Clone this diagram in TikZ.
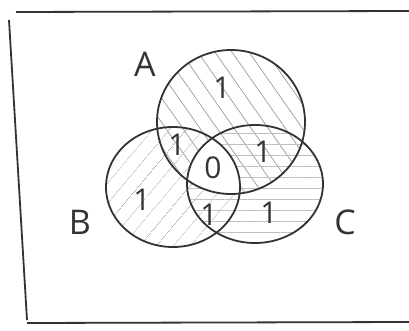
\documentclass[tikz,border=0pt]{standalone}
\usetikzlibrary{patterns.meta}
\usepackage{fontspec}
\setmainfont{Open Sans}
\begin{document}
\begin{tikzpicture}[x=1pt,y=-1pt,
  pen/.style={draw=black!80, line width=1.8pt},
  lbl/.style={font=\fontsize{34}{34}\selectfont, text=black!80, inner sep=0pt},
  num/.style={font=\fontsize{30}{30}\selectfont, text=black!80, inner sep=0pt},
  hatchA/.style={pattern={Lines[angle=-55,distance=14pt,line width=0.7pt]}, pattern color=black!40},
  hatchB/.style={pattern={Lines[angle=50,distance=13pt,line width=0.7pt]}, pattern color=black!35},
  hatchC/.style={pattern={Lines[angle=0,distance=11pt,line width=0.6pt]}, pattern color=black!25}]
\useasboundingbox (0,0) rectangle (409,331);
% hatching
\fill[hatchA] (231,122) ellipse [x radius=74, y radius=72];
\fill[hatchB] (173,187) ellipse [x radius=67, y radius=60];
\fill[hatchC] (255,184) ellipse [x radius=68, y radius=59];
% unhatched centre (A and B and C)
\begin{scope}
  \clip (231,122) ellipse [x radius=74, y radius=72];
  \clip (173,187) ellipse [x radius=67, y radius=60];
  \fill[white] (255,184) ellipse [x radius=68, y radius=59];
\end{scope}
% circles
\draw[pen] (231,122) ellipse [x radius=74, y radius=72];
\draw[pen] (173,187) ellipse [x radius=67, y radius=60];
\draw[pen] (255,184) ellipse [x radius=68, y radius=59];
% frame
\draw[pen] (16,12) -- (409,11);
\draw[pen] (9,20) -- (27,320);
\draw[pen] (27,323) -- (409,322);
% labels
\node[lbl] (la) at (145,64) {A};
\node[lbl] (lb) at (80,222) {B};
\node[lbl] (lc) at (345,222) {C};
% numbers
\node[num] (nA) at (222,88) {1};
\node[num] (nAB) at (177,145) {1};
\node[num] (nABC) at (213,168) {0};
\node[num] (nAC) at (263,152) {1};
\node[num] (nB) at (142,200) {1};
\node[num] (nBC) at (209,215) {1};
\node[num] (nC) at (269,213) {1};
\end{tikzpicture}
\end{document}
